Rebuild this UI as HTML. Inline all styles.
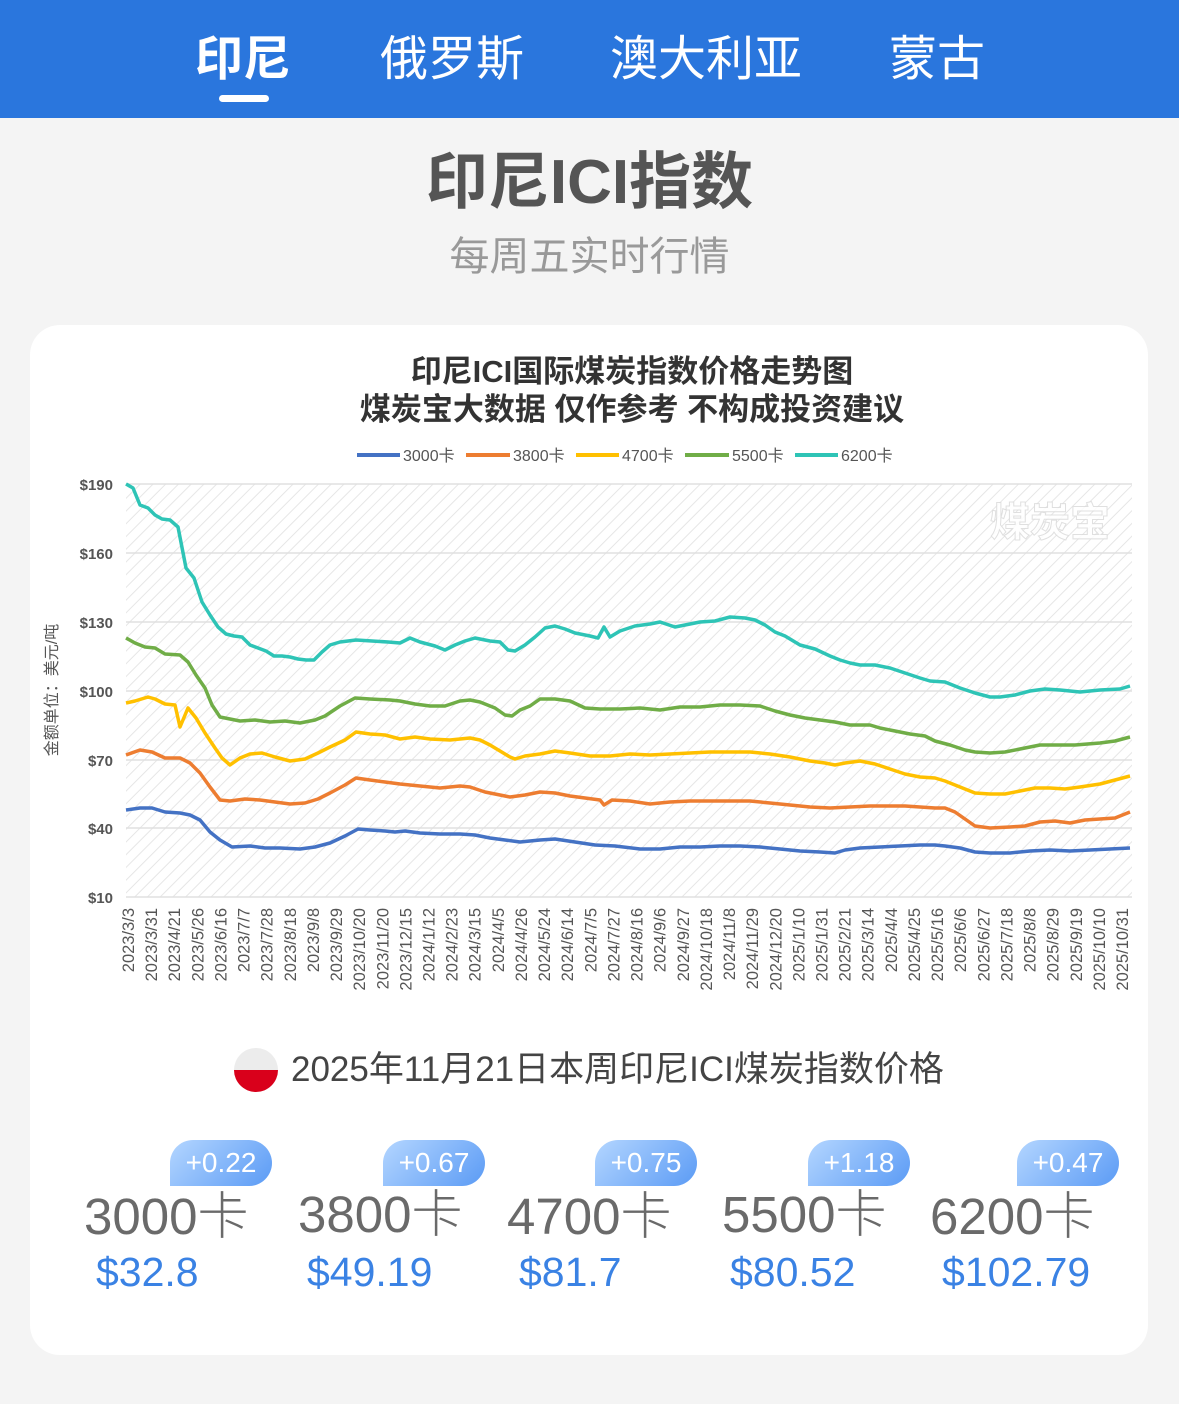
<!DOCTYPE html>
<html><head><meta charset="utf-8"><style>
*{margin:0;padding:0;box-sizing:border-box}
body{width:1179px;height:1404px;background:#f4f4f4;position:relative;overflow:hidden;font-family:"Liberation Sans","Noto Sans CJK SC",sans-serif}
.bar{position:absolute;left:0;top:0;width:1179px;height:118px;background:#2a76dd}
.tab{position:absolute;top:30px;font-size:48px;color:#fff;line-height:60px;white-space:nowrap;transform:translateX(-50%)}
.ab{position:absolute;white-space:nowrap}
.card{position:absolute;left:30px;top:325px;width:1118px;height:1030px;background:#fff;border-radius:30px}
.badge{position:absolute;height:46px;width:102px;border-radius:23px 23px 23px 0;background:linear-gradient(135deg,#b4d6ff,#5b9bf5);color:#fff;font-size:28px;line-height:46px;text-align:center}
.lab{position:absolute;font-size:51px;color:#6a6a6a;font-weight:300;white-space:nowrap;line-height:56px}
.pr{position:absolute;font-size:41px;color:#3a82e4;white-space:nowrap;line-height:44px}
</style></head><body>
<div class="bar"></div>
<div class="tab" style="left:243px;font-weight:bold">印尼</div>
<div style="position:absolute;left:219px;top:95px;width:50px;height:7px;border-radius:4px;background:#fff"></div>
<div class="tab" style="left:452px">俄罗斯</div>
<div class="tab" style="left:706px">澳大利亚</div>
<div class="tab" style="left:937px">蒙古</div>
<div class="ab" style="left:0;width:1179px;text-align:center;top:146px;font-size:62px;font-weight:bold;color:#555;line-height:74px">印尼ICI指数</div>
<div class="ab" style="left:0;width:1179px;text-align:center;top:234px;font-size:40px;color:#999;line-height:46px">每周五实时行情</div>
<div class="card"></div>
<svg style="position:absolute;left:0;top:0" width="1179" height="1404" viewBox="0 0 1179 1404">
<defs><pattern id="h" width="9" height="9" patternUnits="userSpaceOnUse" patternTransform="rotate(45)"><rect width="9" height="9" fill="#fff"/><line x1="0" y1="0" x2="0" y2="9" stroke="#e6e6e6" stroke-width="2"/></pattern></defs>
<text x="632" y="382" text-anchor="middle" font-size="31" font-weight="bold" fill="#333">印尼ICI国际煤炭指数价格走势图</text>
<text x="632" y="420" text-anchor="middle" font-size="31" font-weight="bold" fill="#333">煤炭宝大数据 仅作参考 不构成投资建议</text>
<g font-size="16" fill="#555">
<line x1="357" y1="455" x2="400" y2="455" stroke="#4472c4" stroke-width="4"/><text x="403" y="461">3000卡</text>
<line x1="466" y1="455" x2="510" y2="455" stroke="#ed7d31" stroke-width="4"/><text x="513" y="461">3800卡</text>
<line x1="576" y1="455" x2="619" y2="455" stroke="#ffc000" stroke-width="4"/><text x="622" y="461">4700卡</text>
<line x1="685" y1="455" x2="729" y2="455" stroke="#70ad47" stroke-width="4"/><text x="732" y="461">5500卡</text>
<line x1="795" y1="455" x2="838" y2="455" stroke="#2ec4b6" stroke-width="4"/><text x="841" y="461">6200卡</text>
</g>
<rect x="126" y="484" width="1006" height="413" fill="url(#h)"/>
<g stroke="#e0e0e0" stroke-width="1.5">
<line x1="126" y1="484" x2="1132" y2="484"/><line x1="126" y1="553" x2="1132" y2="553"/><line x1="126" y1="622" x2="1132" y2="622"/><line x1="126" y1="691" x2="1132" y2="691"/><line x1="126" y1="760" x2="1132" y2="760"/><line x1="126" y1="828" x2="1132" y2="828"/><line x1="126" y1="897" x2="1132" y2="897"/>
</g>
<text x="1050" y="536" text-anchor="middle" font-size="40" font-weight="bold" fill="#fff" stroke="#ddd" stroke-width="1" opacity="0.9">煤炭宝</text>
<g font-size="15" font-weight="bold" fill="#555" text-anchor="end">
<text x="113" y="490">$190</text><text x="113" y="559">$160</text><text x="113" y="628">$130</text><text x="113" y="697">$100</text><text x="113" y="766">$70</text><text x="113" y="834">$40</text><text x="113" y="903">$10</text>
</g>
<text transform="translate(57,690) rotate(-90)" text-anchor="middle" font-size="16" fill="#555">金额单位：美元/吨</text>
<g fill="none" stroke-width="3.5" stroke-linejoin="round">
<polyline stroke="#2ec4b6" points="126,484 133,488 140,505 148,508 155,515 162,519 170,520 178,527 186,568 194,578 202,602 210,615 218,627 226,634 234,636 242,637 250,645 258,648 266,651 274,656 282,656 290,657 298,659 306,660 314,660 322,652 330,645 340,642 356,640 372,641 388,642 400,643 410,638 420,642 435,646 445,650 455,645 465,641 475,638 490,641 500,642 508,650 515,651 525,645 535,637 545,628 555,626 565,629 575,633 590,636 598,638 604,627 610,637 620,631 635,626 650,624 660,622 675,627 685,625 700,622 715,621 730,617 745,618 755,620 765,625 775,632 785,636 800,645 815,649 830,656 840,660 850,663 860,665 875,665 890,668 905,673 920,678 930,681 945,682 960,688 975,693 990,697 1000,697 1015,695 1030,691 1045,689 1060,690 1080,692 1100,690 1120,689 1130,686"/>
<polyline stroke="#70ad47" points="126,638 135,643 145,647 155,648 165,654 180,655 188,662 196,675 205,688 212,705 220,717 230,719 240,721 255,720 270,722 285,721 300,723 315,720 325,716 340,706 355,698 370,699 390,700 400,701 415,704 430,706 445,706 460,701 470,700 480,702 495,708 505,715 512,716 520,710 530,706 540,699 555,699 570,701 585,708 600,709 620,709 640,708 660,710 680,707 700,707 720,705 740,705 760,706 775,711 790,715 805,718 820,720 835,722 850,725 870,725 880,728 895,731 910,734 925,736 935,741 950,745 965,750 975,752 990,753 1005,752 1020,749 1040,745 1055,745 1075,745 1100,743 1115,741 1130,737"/>
<polyline stroke="#ffc000" points="126,703 135,701 148,697 155,699 165,704 175,705 180,727 188,708 196,718 205,733 215,748 222,758 230,765 240,758 250,754 262,753 275,757 290,761 305,759 318,753 330,747 345,740 356,732 370,734 385,735 400,739 415,737 430,739 450,740 470,738 480,740 490,745 500,751 510,757 515,759 525,756 540,754 555,751 570,753 590,756 610,756 630,754 650,755 670,754 690,753 710,752 730,752 750,752 770,754 790,757 810,761 825,763 835,765 845,763 860,761 875,764 890,769 905,774 920,777 935,778 945,781 960,787 975,793 990,794 1005,794 1020,791 1035,788 1050,788 1065,789 1080,787 1100,784 1115,780 1130,776"/>
<polyline stroke="#ed7d31" points="126,755 140,750 152,752 165,758 180,758 190,763 200,773 210,787 220,800 230,801 245,799 260,800 275,802 290,804 305,803 318,799 330,793 345,785 356,778 370,780 385,782 400,784 420,786 440,788 460,786 470,787 485,792 500,795 510,797 525,795 540,792 555,793 570,796 585,798 600,800 604,805 612,800 630,801 650,804 670,802 690,801 710,801 730,801 750,801 770,803 790,805 810,807 830,808 850,807 870,806 890,806 905,806 920,807 935,808 945,808 955,812 965,819 975,826 990,828 1010,827 1025,826 1040,822 1055,821 1070,823 1085,820 1100,819 1115,818 1130,812"/>
<polyline stroke="#4472c4" points="126,810 140,808 152,808 165,812 180,813 190,815 200,820 210,832 220,840 232,847 250,846 265,848 280,848 300,849 315,847 330,843 345,836 358,829 370,830 385,831 395,832 405,831 420,833 440,834 460,834 475,835 490,838 505,840 520,842 540,840 555,839 575,842 595,845 615,846 640,849 660,849 680,847 700,847 720,846 740,846 760,847 780,849 800,851 820,852 835,853 845,850 860,848 880,847 900,846 920,845 935,845 945,846 960,848 975,852 990,853 1010,853 1030,851 1050,850 1070,851 1090,850 1110,849 1130,848"/>
</g>
<g font-size="16.5" fill="#555" text-anchor="end" id="xl"></g>
<circle cx="256" cy="1070" r="22" fill="#ececec"/>
<path d="M234,1070 A22,22 0 0 0 278,1070 Z" fill="#d9001b"/>
</svg>
<div class="ab" style="left:291px;top:1049px;font-size:35px;color:#444;line-height:42px">2025年11月21日本周印尼ICI煤炭指数价格</div>
<div class="badge" style="left:170px;top:1140px">+0.22</div>
<div class="badge" style="left:383px;top:1140px">+0.67</div>
<div class="badge" style="left:595px;top:1140px">+0.75</div>
<div class="badge" style="left:808px;top:1140px">+1.18</div>
<div class="badge" style="left:1017px;top:1140px">+0.47</div>
<div class="lab" style="left:84px;top:1189px">3000卡</div>
<div class="lab" style="left:298px;top:1187px">3800卡</div>
<div class="lab" style="left:507px;top:1189px">4700卡</div>
<div class="lab" style="left:722px;top:1187px">5500卡</div>
<div class="lab" style="left:930px;top:1189px">6200卡</div>
<div class="pr" style="left:96px;top:1250px">$32.8</div>
<div class="pr" style="left:307px;top:1250px">$49.19</div>
<div class="pr" style="left:519px;top:1250px">$81.7</div>
<div class="pr" style="left:730px;top:1250px">$80.52</div>
<div class="pr" style="left:942px;top:1250px">$102.79</div>
<script>
var L="2023/3/3,2023/3/31,2023/4/21,2023/5/26,2023/6/16,2023/7/7,2023/7/28,2023/8/18,2023/9/8,2023/9/29,2023/10/20,2023/11/20,2023/12/15,2024/1/12,2024/2/23,2024/3/15,2024/4/5,2024/4/26,2024/5/24,2024/6/14,2024/7/5,2024/7/27,2024/8/16,2024/9/6,2024/9/27,2024/10/18,2024/11/8,2024/11/29,2024/12/20,2025/1/10,2025/1/31,2025/2/21,2025/3/14,2025/4/4,2025/4/25,2025/5/16,2025/6/6,2025/6/27,2025/7/18,2025/8/8,2025/8/29,2025/9/19,2025/10/10,2025/10/31".split(",");
var g=document.getElementById("xl"),s="";
for(var i=0;i<L.length;i++){var x=134+i*(1128-134)/(L.length-1);s+='<text transform="translate('+x.toFixed(1)+',908) rotate(-90)">'+L[i]+'</text>';}
g.innerHTML=s;
</script>
</body></html>
